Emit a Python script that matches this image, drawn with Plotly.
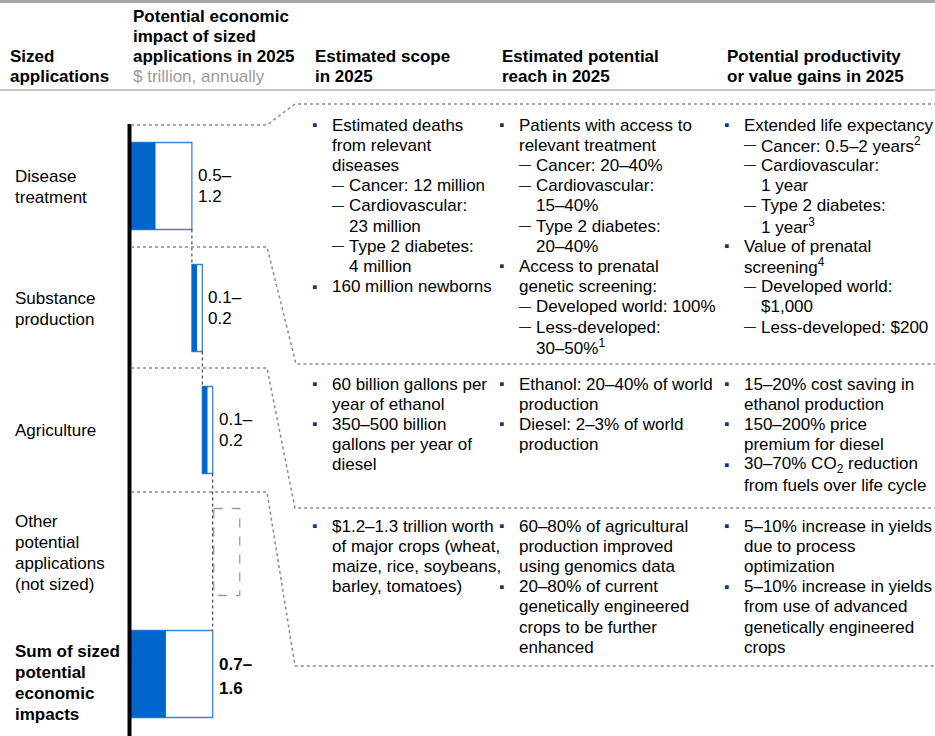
import plotly.graph_objects as go

W, H = 935, 736
FONT = "Liberation Sans, Arial, sans-serif"
BLUE = "#0066CC"
EDGE = "#3A82DA"
NAVY = "#1B2F6B"
GRAY_DOT = "#8A8A8A"

# ---- data -------------------------------------------------------------
applications = ["Disease treatment", "Substance production", "Agriculture",
                "Other potential applications (not sized)",
                "Sum of sized potential economic impacts"]
row_labels = [["Disease", "treatment"], ["Substance", "production"], ["Agriculture"],
              ["Other", "potential", "applications", "(not sized)"],
              ["Sum of sized", "potential", "economic", "impacts"]]
impact_low = [0.5, 0.1, 0.1, None, 0.7]      # $ trillion, annually
impact_high = [1.2, 0.2, 0.2, None, 1.6]
range_text = [("0.5–", "1.2"), ("0.1–", "0.2"), ("0.1–", "0.2"), None, ("0.7–", "1.6")]

headers = [
    (8, ["Sized", "applications"]),
    (131, ["Potential economic", "impact of sized", "applications in 2025"]),
    (313, ["Estimated scope", "in 2025"]),
    (500, ["Estimated potential", "reach in 2025"]),
    (725, ["Potential productivity", "or value gains in 2025"]),
]
unit_text = "$ trillion, annually"

# b = bullet, c = continuation, d = dash item, dc = dash continuation
scope_lines = [
    [("b", "Estimated deaths"), ("c", "from relevant"), ("c", "diseases"),
     ("d", "Cancer: 12 million"), ("d", "Cardiovascular:"), ("dc", "23 million"),
     ("d", "Type 2 diabetes:"), ("dc", "4 million"), ("b", "160 million newborns")],
    [("b", "60 billion gallons per"), ("c", "year of ethanol"), ("b", "350–500 billion"),
     ("c", "gallons per year of"), ("c", "diesel")],
    [("b", "$1.2–1.3 trillion worth"), ("c", "of major crops (wheat,"),
     ("c", "maize, rice, soybeans,"), ("c", "barley, tomatoes)")],
]
reach_lines = [
    [("b", "Patients with access to"), ("c", "relevant treatment"), ("d", "Cancer: 20–40%"),
     ("d", "Cardiovascular:"), ("dc", "15–40%"), ("d", "Type 2 diabetes:"), ("dc", "20–40%"),
     ("b", "Access to prenatal"), ("c", "genetic screening:"), ("d", "Developed world: 100%"),
     ("d", "Less-developed:"), ("dc", "30–50%<sup>1</sup>")],
    [("b", "Ethanol: 20–40% of world"), ("c", "production"), ("b", "Diesel: 2–3% of world"),
     ("c", "production")],
    [("b", "60–80% of agricultural"), ("c", "production improved"), ("c", "using genomics data"),
     ("b", "20–80% of current"), ("c", "genetically engineered"), ("c", "crops to be further"),
     ("c", "enhanced")],
]
gain_lines = [
    [("b", "Extended life expectancy"), ("d", "Cancer: 0.5–2 years<sup>2</sup>"),
     ("d", "Cardiovascular:"), ("dc", "1 year"), ("d", "Type 2 diabetes:"),
     ("dc", "1 year<sup>3</sup>"), ("b", "Value of prenatal"), ("c", "screening<sup>4</sup>"),
     ("d", "Developed world:"), ("dc", "$1,000"), ("d", "Less-developed: $200")],
    [("b", "15–20% cost saving in"), ("c", "ethanol production"), ("b", "150–200% price"),
     ("c", "premium for diesel"), ("b", "30–70% CO<sub>2</sub> reduction"),
     ("c", "from fuels over life cycle")],
    [("b", "5–10% increase in yields"), ("c", "due to process"), ("c", "optimization"),
     ("b", "5–10% increase in yields"), ("c", "from use of advanced"),
     ("c", "genetically engineered"), ("c", "crops")],
]

# ---- layout constants -------------------------------------------------
ZERO_PX, PX_PER_T = 129.5, 52.0
BARGAP = 0.287
HW = (1 - BARGAP) / 2
group_top = [131, 390, 532]
col_x = [313, 500, 725]
LINE = 20.2

fig = go.Figure()

# waterfall bases
bases, run = [], 0.0
for lo, hi in zip(impact_low, impact_high):
    if hi is None:
        bases.append(None)
    elif applications[len(bases)].startswith("Sum"):
        bases.append(0.0)
    else:
        bases.append(run)
        run += hi

sized = [i for i, v in enumerate(impact_high) if v is not None]
fig.add_trace(go.Bar(
    y=[applications[i] for i in sized], x=[impact_high[i] for i in sized],
    base=[bases[i] for i in sized], orientation="h",
    marker=dict(color="white", line=dict(color=EDGE, width=1.3)),
    xaxis="x2", yaxis="y2", hoverinfo="skip", showlegend=False))
fig.add_trace(go.Bar(
    y=[applications[i] for i in sized], x=[impact_low[i] for i in sized],
    base=[bases[i] for i in sized], orientation="h",
    marker=dict(color=BLUE, line=dict(width=0)),
    xaxis="x2", yaxis="y2", hoverinfo="skip", showlegend=False))

shapes = []
ann = []

# connectors between waterfall steps
steps = [i for i in sized if not applications[i].startswith("Sum")]
for a, b in zip(steps, steps[1:] + [len(applications) - 1]):
    xe = bases[a] + impact_high[a]
    shapes.append(dict(type="line", xref="x2", yref="y2", x0=xe, x1=xe,
                       y0=a + HW, y1=b - HW, line=dict(color="#222", width=1, dash="dot")))

# unsized placeholder box
total_hi = impact_high[-1]
shapes.append(dict(type="rect", xref="x2", yref="y2", x0=total_hi + 0.02, x1=total_hi + 0.52,
                   y0=3 - HW, y1=3 + HW, line=dict(color="#9A9A9A", width=1.3, dash="dash")))

# vertical axis line
shapes.append(dict(type="line", xref="x2", yref="y", x0=0, x1=0, y0=124, y1=736,
                   line=dict(color="black", width=4)))

# header rules
shapes.append(dict(type="line", xref="x", yref="y", x0=0, x1=W, y0=1.5, y1=1.5,
                   line=dict(color="#A6A6A6", width=3)))
shapes.append(dict(type="line", xref="x", yref="y", x0=0, x1=W, y0=90, y1=90,
                   line=dict(color="#8C8C8C", width=1)))

# dotted callout outlines
outlines = [
    [(131, 125), (267, 125), (295, 104), (W, 104)],
    [(131, 247), (267, 247), (296, 364), (W, 364)],
    [(131, 368), (267, 368), (295, 508), (W, 508)],
    [(131, 492), (267, 492), (295, 666), (W, 666)],
]
for pts in outlines:
    path = "M " + " L ".join(f"{x},{y}" for x, y in pts)
    shapes.append(dict(type="path", xref="x", yref="y", path=path,
                       line=dict(color=GRAY_DOT, width=1.5, dash="dot")))


def txt(x, base, s, size=17, color="black", bold=False):
    ann.append(dict(x=x, y=base - 6, xref="x", yref="y", showarrow=False,
                    xanchor="left", yanchor="middle", text=f"<b>{s}</b>" if bold else s,
                    font=dict(family=FONT, size=size, color=color)))


# headers
hdr_base = [22.7, 42.5, 62.3, 82.0]
for x, lines in headers:
    start = 4 - len(lines) - (1 if x == 131 else 0)
    for k, s in enumerate(lines):
        txt(x, hdr_base[start + k], s, bold=True)
txt(131, hdr_base[3], unit_text, color="#9A9A9A")

# row labels, tied to category axis
for i, lines in enumerate(row_labels):
    n = len(lines)
    extra = 8 if applications[i].startswith("Sum") else 0
    for k, s in enumerate(lines):
        off = (k - (n - 1) / 2) * 21 + 0.5 + extra
        ann.append(dict(x=13, y=i, xref="x", yref="y2", yshift=-off, showarrow=False,
                        xanchor="left", yanchor="middle",
                        text=f"<b>{s}</b>" if applications[i].startswith("Sum") else s,
                        font=dict(family=FONT, size=17, color="black")))

# value range labels next to the bars
for i in sized:
    a, b = range_text[i]
    bold = applications[i].startswith("Sum")
    sp = 12 if bold else 10.5
    for s, sh in ((a, sp), (b, -sp)):
        ann.append(dict(x=bases[i] + impact_high[i], y=i, xref="x2", yref="y2",
                        xshift=4, yshift=sh - (2 if bold else 0), showarrow=False,
                        xanchor="left", yanchor="middle",
                        text=f"<b>{s}</b>" if bold else s,
                        font=dict(family=FONT, size=17, color="black")))

# text columns
for cx, col in zip(col_x, [scope_lines, reach_lines, gain_lines]):
    for top, group in zip(group_top, col):
        for k, (kind, s) in enumerate(group):
            base = top + k * LINE
            if kind == "b":
                txt(cx - 3, base - 0.5, "▪", size=15, color=NAVY)
                txt(cx + 17, base, s)
            elif kind == "c":
                txt(cx + 17, base, s)
            elif kind == "d":
                txt(cx + 17, base, "—", size=12, color="#222")
                txt(cx + 34, base, s)
            else:
                txt(cx + 34, base, s)

fig.update_layout(
    width=W, height=H, margin=dict(l=0, r=0, t=0, b=0),
    paper_bgcolor="white", plot_bgcolor="rgba(0,0,0,0)",
    barmode="overlay", bargap=BARGAP, showlegend=False,
    xaxis=dict(range=[0, W], domain=[0, 1], visible=False, fixedrange=True),
    yaxis=dict(range=[H, 0], domain=[0, 1], visible=False, fixedrange=True),
    xaxis2=dict(range=[-ZERO_PX / PX_PER_T, (W - ZERO_PX) / PX_PER_T], domain=[0, 1],
                anchor="y2", visible=False, fixedrange=True),
    yaxis2=dict(type="category", categoryorder="array", categoryarray=applications,
                range=[4.5, -0.5], domain=[1 - 735 / H, 1 - 125 / H], anchor="x2",
                visible=False, fixedrange=True),
    shapes=shapes, annotations=ann,
)

fig.write_html("out.html", config={"displayModeBar": False},
               post_script="document.body.style.margin='0';")
